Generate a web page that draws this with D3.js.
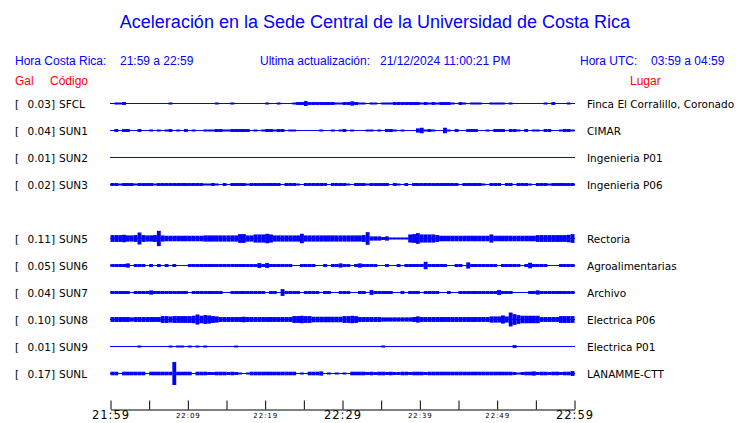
<!DOCTYPE html>
<html><head><meta charset="utf-8">
<script src="https://cdn.jsdelivr.net/npm/d3@7"></script>
<style>
body{margin:0;background:#fff;}
svg{display:block;}
</style></head>
<body>
<svg id="c" width="740" height="423"></svg>
<script>
// ---------- DATA ----------
const title = "Aceleración en la Sede Central de la Universidad de Costa Rica";
const stations = ["SFCL","SUN1","SUN2","SUN3","SUN5","SUN6","SUN7","SUN8","SUN9","SUNL"];
const peakGal  = ["0.03","0.04","0.01","0.02","0.11","0.05","0.04","0.10","0.01","0.17"];
const places   = ["Finca El Corralillo, Coronado","CIMAR","Ingenieria P01","Ingenieria P06","Rectoria","Agroalimentarias","Archivo","Electrica P06","Electrica P01","LANAMME-CTT"];
const rowSlots = [0,1,2,3,5,6,7,8,9,10];
const tickTimes  = ["21:59","22:04","22:09","22:14","22:19","22:24","22:29","22:34","22:39","22:44","22:49","22:54","22:59"];
const tickLabels = ["21:59","","22:09","","22:19","","22:29","","22:39","","22:49","","22:59"];
const majorTicks = ["21:59","22:29","22:59"];
// envelope half-amplitude per 30 s bin, in mGal
const env_SFCL = [0,8,8,15,0,0,0,0,0,0, 0,0,0,0,0,8,0,0,0,0, 0,0,0,0,0,0,0,8,0,0, 0,8,0,0,0,0,0,0,0,0,
  8,0,0,8,0,0,0,8,15,15, 30,15,15,15,15,15,15,15,8,8, 15,15,25,15,8,8,0,8,8,0, 8,8,8,15,15,15,15,15,15,15,
  8,15,8,15,8,15,15,15,8,0, 15,8,0,8,8,8,0,0,8,8, 8,8,0,8,0,0,0,0,0,0, 0,0,8,0,15,0,0,0,8,0];
const env_SUN1 = [0,15,0,15,15,0,0,15,0,0, 8,0,8,0,8,15,0,8,0,15, 0,8,0,0,8,8,8,15,15,8, 8,15,15,15,15,15,0,8,0,8,
  15,15,8,15,15,0,8,8,0,0, 0,0,0,0,8,0,0,8,0,8, 15,0,8,0,0,0,8,8,0,8, 0,15,15,8,0,8,0,0,0,25,
  35,8,15,8,0,0,35,8,0,15, 0,0,15,15,15,0,0,8,0,15, 15,15,0,15,15,8,0,15,0,8, 8,0,15,15,0,0,8,15,15,8];
const env_SUN2 = [0,0,0,0,0,0,0,0,0,0, 0,0,0,0,0,0,0,0,0,0, 0,0,0,0,0,0,0,0,0,0, 0,0,0,0,0,0,0,0,0,0,
  0,0,0,0,0,0,0,0,0,0, 0,0,0,0,0,0,0,0,0,0, 0,0,0,0,0,0,0,0,0,0, 0,0,0,0,0,0,0,0,0,0,
  0,0,0,0,0,0,0,0,0,0, 0,0,0,0,0,0,0,0,0,0, 0,0,0,0,0,0,0,0,0,0, 0,0,0,0,0,0,0,0,0,0];
const env_SUN3 = [15,15,8,15,15,15,8,15,15,15, 15,8,15,15,15,15,15,15,15,15, 15,15,15,15,8,8,15,8,0,15, 0,15,15,15,15,8,15,15,15,15,
  15,15,15,15,0,15,15,15,8,0, 15,15,15,15,15,15,0,15,15,15, 15,8,0,15,15,15,8,15,15,15, 15,15,0,15,8,0,15,0,15,15,
  15,15,15,15,15,15,15,15,15,15, 0,15,15,15,15,15,8,0,15,15, 15,0,15,15,0,15,15,15,8,0, 15,15,15,8,15,15,15,15,15,15];
const env_SUN5 = [45,45,45,50,40,40,45,85,45,40, 40,45,110,40,35,35,35,35,35,35, 35,35,35,35,40,40,40,40,40,40, 40,40,40,60,60,40,40,55,55,55,
  65,55,40,40,40,40,40,40,40,65, 40,40,40,40,40,40,40,40,40,40, 40,40,40,40,40,45,90,25,25,25, 15,25,8,8,8,8,8,55,60,75,
  55,55,55,55,45,35,35,35,35,35, 35,35,35,35,35,35,35,35,55,35, 35,35,35,35,35,35,35,35,35,35, 45,45,45,45,45,45,45,45,50,60];
const env_SUN6 = [15,15,15,15,25,0,15,15,15,0, 15,0,15,0,15,0,15,0,0,0, 15,15,15,15,15,15,15,15,15,15, 15,15,15,15,15,15,15,15,30,15,
  30,15,15,15,15,15,15,0,0,15, 15,15,15,0,0,15,0,15,15,25, 15,15,0,15,25,15,15,15,15,0, 0,15,0,0,15,0,15,15,15,15,
  15,50,15,15,15,15,15,0,0,15, 15,0,40,15,15,15,15,15,15,15, 0,15,15,15,15,15,0,15,35,15, 15,15,15,0,0,0,15,15,15,15];
const env_SUN7 = [15,15,15,15,15,0,15,15,15,15, 25,15,15,15,15,15,15,15,15,15, 0,15,15,15,15,15,15,15,15,0, 0,15,15,15,15,15,15,15,15,15,
  0,15,15,0,45,15,15,15,15,0, 15,15,15,15,0,15,15,0,0,15, 15,15,0,0,15,15,0,30,15,15, 15,15,15,0,0,15,0,15,15,15,
  0,15,15,15,15,0,0,15,0,0, 15,15,15,15,15,15,15,15,15,15, 30,15,15,15,0,0,0,0,15,15, 25,15,15,15,15,15,15,15,15,15];
const env_SUN8 = [30,30,30,30,30,25,30,30,30,30, 30,30,30,45,45,40,45,45,45,45, 45,50,70,50,60,55,45,40,30,30, 30,30,30,30,35,30,30,30,30,30,
  30,30,30,30,30,30,30,45,45,50, 45,45,35,35,35,35,35,35,35,35, 45,45,50,45,30,30,30,30,30,30, 25,25,25,25,25,25,25,25,30,40,
  30,30,30,30,30,30,30,30,30,30, 30,30,30,30,30,30,30,30,40,40, 40,55,40,100,75,60,50,50,50,50, 50,30,30,30,30,30,45,45,45,45];
const env_SUN9 = [0,0,0,0,0,0,0,8,0,0, 0,0,0,0,0,8,0,8,8,0, 8,0,8,0,8,0,0,0,0,0, 0,0,8,0,0,0,0,0,0,0,
  0,0,0,0,0,0,0,0,0,0, 0,0,0,0,0,0,0,0,0,0, 0,0,0,0,0,0,0,0,0,0, 8,0,0,0,0,0,0,0,0,0,
  0,0,0,0,0,0,0,0,0,0, 0,0,0,0,0,0,0,0,0,0, 0,0,0,0,15,0,0,0,0,0, 0,0,0,0,0,0,0,0,0,0];
const env_SUNL = [20,20,0,20,20,20,20,20,20,0, 20,20,20,20,20,20,170,20,20,20, 20,0,20,20,20,15,15,20,20,20, 15,20,15,8,0,8,20,20,20,20,
  20,20,20,20,20,20,20,20,0,8, 0,20,20,20,25,0,8,0,8,0, 8,0,20,20,20,20,15,20,15,20, 20,15,20,15,15,20,20,15,20,20,
  20,15,20,20,20,20,20,20,20,20, 20,20,20,20,20,20,20,20,20,20, 20,20,20,20,15,8,15,20,20,25, 15,20,20,15,20,20,15,20,20,30];
const envelopes = [env_SFCL,env_SUN1,env_SUN2,env_SUN3,env_SUN5,env_SUN6,env_SUN7,env_SUN8,env_SUN9,env_SUNL];
const binMinutes = 0.5;

// ---------- DRAW ----------
const svg = d3.select("#c");
const BLUE = "#0000ff", RED = "#ff0000";
const parseT = t => { const [h,m] = t.split(":").map(Number); return new Date(2024,11,21,h,m,0); };
const t0 = parseT(tickTimes[0]), t1 = parseT(tickTimes[tickTimes.length-1]);
const x = d3.scaleTime().domain([t0,t1]).range([110.5,574.5]);
const y = d3.scaleLinear().domain([0,10]).range([103.5,373.5]);
const amp = d3.scaleLinear().domain([0,170]).range([0,11]);

svg.append("text").attr("x",375).attr("y",28).attr("text-anchor","middle")
  .attr("font-family","Liberation Sans, Arial, sans-serif").attr("font-size",18).attr("fill",BLUE).text(title);

const hdr = (tx,xx,yy,col,anchor) => svg.append("text").attr("x",xx).attr("y",yy)
  .attr("font-family","Liberation Sans, Arial, sans-serif").attr("font-size",12)
  .attr("fill",col).attr("text-anchor",anchor||"start").text(tx);
hdr("Hora Costa Rica:",15,65,BLUE);
hdr("21:59 a 22:59",120,65,BLUE);
hdr("Ultima actualización:",260,65,BLUE);
hdr("21/12/2024 11:00:21 PM",380,65,BLUE);
hdr("Hora UTC:",580,65,BLUE);
hdr("03:59 a 04:59",651,65,BLUE);
hdr("Gal",15,85,RED);
hdr("Código",50,85,RED);
hdr("Lugar",630,85,RED);

const lblFont = "DejaVu Sans, Verdana, sans-serif";
const rows = svg.append("g");
stations.forEach((code,i) => {
  const yy = y(rowSlots[i]);
  const g = rows.append("g");
  g.append("text").attr("x",15).attr("y",yy+4).attr("font-family",lblFont).attr("font-size",10.5).text("[");
  g.append("text").attr("x",55).attr("y",yy+4).attr("text-anchor","end").attr("font-family",lblFont).attr("font-size",10.5).text(peakGal[i]+"]");
  g.append("text").attr("x",59).attr("y",yy+4).attr("font-family",lblFont).attr("font-size",10.5).text(code);
  g.append("text").attr("x",587).attr("y",yy+4).attr("font-family",lblFont).attr("font-size",10.5).text(places[i]);
  g.append("line").attr("x1",x(t0)-0.5).attr("x2",x(t1)+0.5).attr("y1",yy).attr("y2",yy)
    .attr("stroke",BLUE).attr("stroke-width",1);
  const env = envelopes[i];
  g.selectAll("rect").data(env.map((v,j)=>({v,j})).filter(d=>d.v>0)).join("rect")
    .attr("x",d=>x(d3.timeSecond.offset(t0, d.j*binMinutes*60)))
    .attr("width",d=>x(d3.timeSecond.offset(t0,(d.j+1)*binMinutes*60))-x(d3.timeSecond.offset(t0,d.j*binMinutes*60)))
    .attr("y",d=>yy-amp(d.v)-0.5)
    .attr("height",d=>2*amp(d.v)+1)
    .attr("fill",BLUE);
});

// time axis
const axis = d3.axisBottom(x).tickValues(tickTimes.map(parseT))
  .tickSizeInner(-9).tickSizeOuter(0).tickPadding(3)
  .tickFormat((d,i)=>tickLabels[i]);
const ag = svg.append("g").attr("transform","translate(0,409.5)").call(axis);
ag.select(".domain").attr("stroke","#000");
ag.selectAll(".tick line").attr("stroke","#000");
ag.selectAll(".tick text").each(function(d,i){
  const major = majorTicks.includes(tickLabels[i]);
  d3.select(this).attr("fill","#000").attr("font-family",lblFont)
    .attr("font-size",major?11.5:7).attr("letter-spacing",major?"1px":"0.9px")
    .attr("dy",null).attr("y",major?9.5:8);
});
</script>
</body></html>
